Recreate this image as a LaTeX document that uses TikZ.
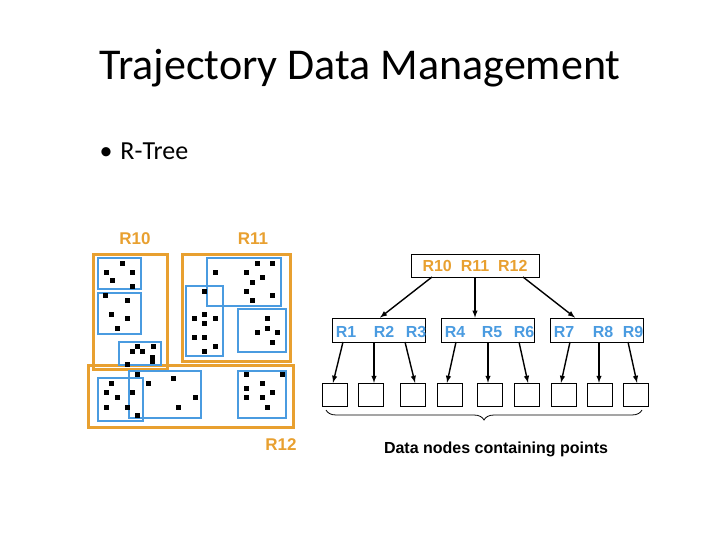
\documentclass[tikz,border=0pt]{standalone}
\usepackage{fontspec}
\setmainfont{Carlito}
\newfontfamily\arial{Liberation Sans}
\usetikzlibrary{positioning}
\usetikzlibrary{shapes,arrows,decorations.pathreplacing}
\definecolor{mbrorange}{RGB}{232,160,48}
\definecolor{mbrblue}{RGB}{74,155,224}
\tikzset{
  outer/.style={draw=mbrorange, line width=3pt},
  inner/.style={draw=mbrblue, line width=2.6pt},
  pt/.style={fill=black, minimum size=5pt, inner sep=0pt},
  leaf/.style={draw, minimum width=25pt, minimum height=23pt, inner sep=0pt},
  ptr/.style={-latex, line width=1.4pt},
  lab/.style={font=\arial\bfseries\fontsize{17}{19}\selectfont},
  key/.style={font=\arial\bfseries\fontsize{16}{18}\selectfont},
}
\begin{document}
\begin{tikzpicture}[x=1pt,y=-1pt]
  \useasboundingbox (0,0) rectangle (720,540);
  \node (title) at (360,68) {\fontsize{44}{50}\selectfont Trajectory Data Management};
  \node[anchor=west] (bullet) at (96,151) {\fontsize{26}{30}\selectfont \textbullet\hspace{8pt}R-Tree};
  % space partition
  \draw[outer] (93,254) rectangle (167,369);
  \draw[outer] (182,254) rectangle (290,361);
  \draw[outer] (88,365) rectangle (293,427);
  \draw[inner] (98,258) rectangle (141,289);
  \draw[inner] (98,293) rectangle (141,334);
  \draw[inner] (119,342) rectangle (161,365);
  \draw[inner] (207,258) rectangle (281,306);
  \draw[inner] (186,286) rectangle (223,356);
  \draw[inner] (238,309) rectangle (286,352);
  \draw[inner] (98,378) rectangle (143,421);
  \draw[inner] (129,371) rectangle (201,418);
  \draw[inner] (238,371) rectangle (286,418);
  \foreach \x/\y in {122/263,106/272,132/272,112/280,132/286,
      105/295,127/300,111/314,127/318,117/328,
      137/346,153/346,132/351,142/351,152/357,152/361,127/364,
      215/272,257/263,272/263,246/272,262/277,252/282,246/291,272/295,252/300,
      204/291,194/318,204/314,215/318,204/323,194/337,204/337,215/346,204/351,
      267/318,267/328,257/332,277/332,272/342,
      137/374,111/383,148/383,173/378,106/392,132/392,117/397,195/397,106/407,127/407,178/407,137/415,
      246/374,282/374,262/383,246/388,272/392,246/397,262/397,267/407}
    \node[pt] at (\x,\y) {};
  \node[lab, text=mbrorange] (r10) at (135,239) {R10};
  \node[lab, text=mbrorange] (r11) at (253,239) {R11};
  \node[lab, text=mbrorange] (r12) at (281,445) {R12};
  % tree
  \node[draw, thick, minimum width=128pt, minimum height=23pt] (root) at (475,265.5) {};
  \node[key, text=mbrorange] at (root) {R10\ \ R11\ \ R12};
  \foreach \n/\x in {a/379,b/487.5,c/596.5}
    \node[draw, thick, minimum width=93pt, minimum height=24pt] (\n) at (\x,330) {};
  \foreach \t/\x in {R1/346,R2/384,R3/416,R4/455,R5/492,R6/524,R7/564,R8/603,R9/633}
    \node[key, text=mbrblue] at (\x,332) {\t};
  \foreach \i/\x in {1/334.5,2/371,3/412.5,4/450,5/490,6/527,7/564,8/600,9/635.5}
    \node[leaf] (l\i) at (\x,394.5) {};
  \draw[ptr] (432,277) -- (a.north -| 380,0);
  \draw[ptr] (root.south) -- (b.north -| root.south);
  \draw[ptr] (523,277) -- (c.north -| 575,0);
  \foreach \i/\s/\e in {1/343/333,2/374/374,3/405/415,4/456/447,5/488/488,6/519/528,7/570/561,8/599/599,9/628/637}
    \draw[ptr] (\s,342) -- (l\i.north -| \e,0);
  \draw[thick, decorate, decoration={brace, mirror, amplitude=10pt}] (326,410) -- (642,410);
  \node[key] (cap) at (496,449) {Data nodes containing points};
\end{tikzpicture}
\end{document}
